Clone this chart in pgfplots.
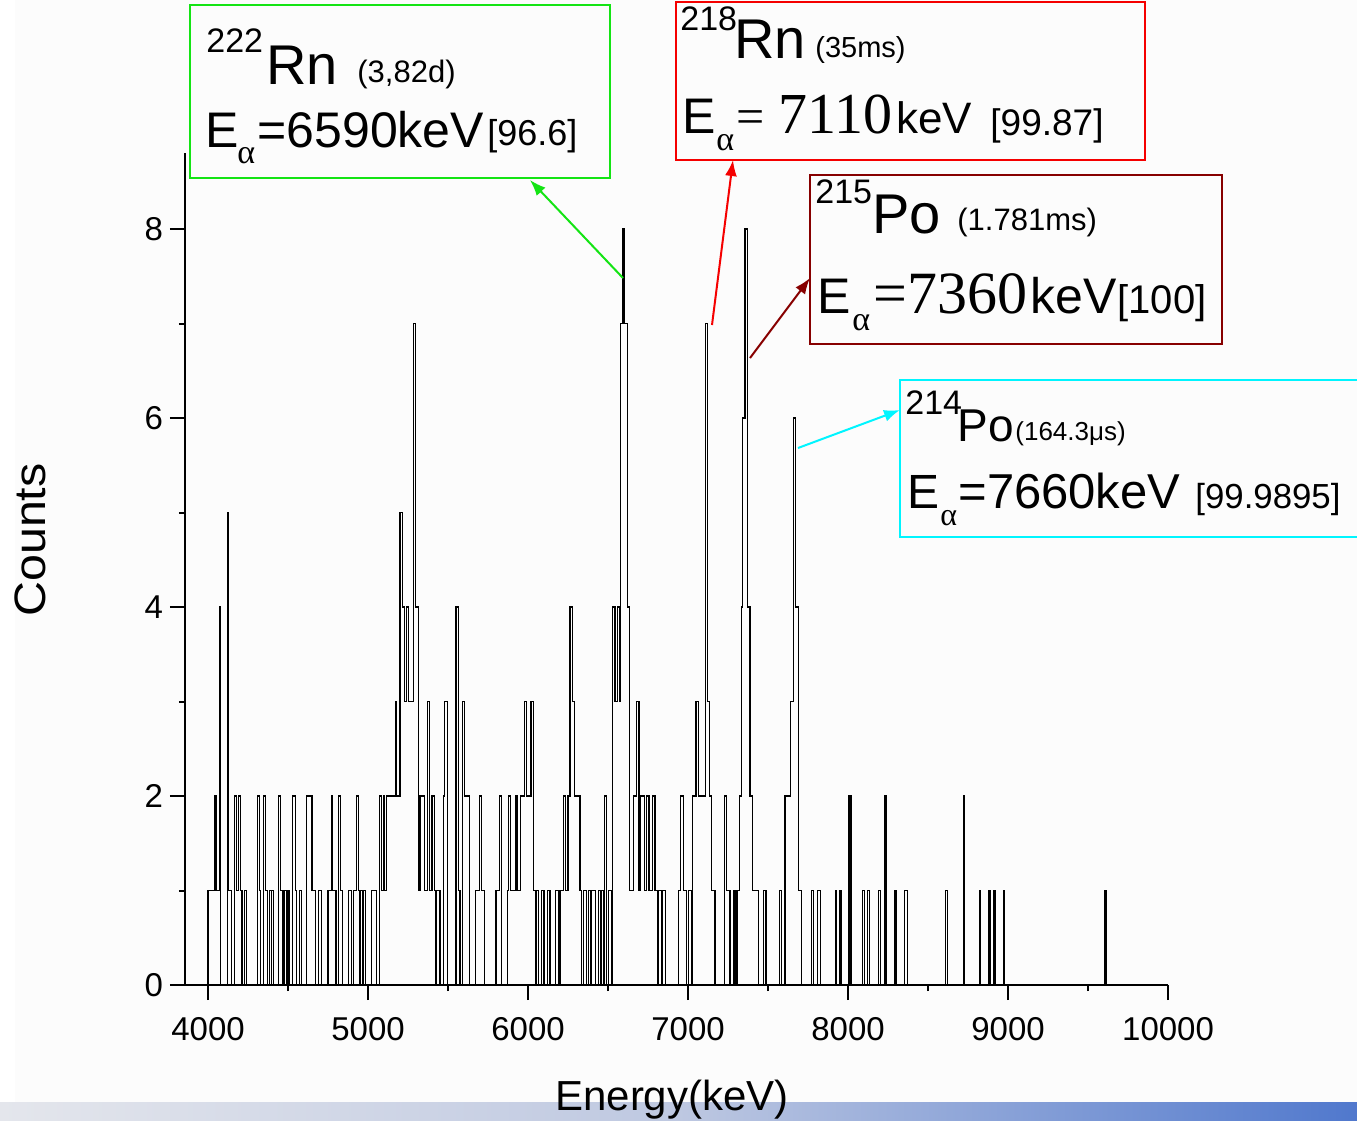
\documentclass[border=0pt]{standalone}
\usepackage{pgfplots}
\pgfplotsset{compat=1.18}
\usetikzlibrary{arrows.meta}
\usepackage{fontspec}
\setmainfont{Liberation Sans}
\newfontfamily\serif{Liberation Serif}
\definecolor{cgreen}{RGB}{20,228,20}
\definecolor{cred}{RGB}{245,0,0}
\definecolor{cdred}{RGB}{135,0,0}
\definecolor{ccyan}{RGB}{0,245,255}
\definecolor{bgc}{RGB}{252,252,252}
\definecolor{barl}{RGB}{228,230,236}
\definecolor{barr}{RGB}{80,120,205}
\newcommand{\fs}[1]{\fontsize{#1}{#1}\selectfont}
\begin{document}
\begin{tikzpicture}
\begin{scope}[x=0.5pt,y=-0.5pt]
\fill[white] (0,0) rectangle (1357,1121);
\fill[bgc] (15,0) rectangle (1357,1102);
\shade[left color=barl, right color=barr, middle color={rgb,255:red,190;green,200;blue,225}] (0,1102) rectangle (1357,1121);
\end{scope}
\begin{axis}[
  at={(92.5pt,-492.5pt)}, anchor=south west,
  x=0.08pt, y=47.25pt,
  xmin=3856, xmax=10000, ymin=0, ymax=8.8,
  axis x line=bottom, axis y line=left,
  axis line style={-, line width=1.2pt},
  x axis line style={-}, y axis line style={-},
  xtick={4000,5000,...,10000}, minor xtick={4500,5500,...,9500},
  ytick={0,2,4,6,8}, minor ytick={1,3,5,7},
  tick align=outside, major tick length=7.5pt, minor tick length=3pt,
  every tick/.style={black, line width=1pt},
  tick label style={font=\fs{16.5}},
  xticklabel style={yshift=-5pt},
  /pgf/number format/assume math mode=true,
  /pgf/number format/1000 sep={},
  scaled ticks=false,
  clip=false,
]
\addplot[const plot, black, line width=0.65pt] coordinates {
(4000,0)(4000,1)(4040,2)(4050,1)(4070,4)(4080,0)(4120,5)(4130,1)(4145,0)(4165,2)(4180,1)(4190,2)(4205,1)(4212,0)(4230,1)(4240,0)
(4310,2)(4320,1)(4330,0)(4345,2)(4360,1)(4370,0)(4385,1)(4395,0)(4398,1)(4408,0)(4440,2)(4455,1)(4468,0)(4480,1)(4490,0)(4500,1)(4510,0)
(4530,2)(4545,1)(4555,0)(4570,1)(4585,0)(4615,2)(4650,1)(4670,0)(4690,1)(4710,0)(4750,1)(4770,2)(4780,1)(4800,0)(4815,2)(4830,1)(4840,0)
(4880,1)(4898,0)(4908,1)(4930,2)(4942,1)(4950,0)(4955,1)(4965,0)(4968,1)(4985,0)(5020,1)(5055,0)(5070,2)(5085,1)(5095,2)(5105,1)(5115,2)
(5170,3)(5180,2)(5200,5)(5215,4)(5230,3)(5240,4)(5255,3)(5285,7)(5298,4)(5315,1)(5325,2)(5355,1)(5370,3)(5385,1)(5400,2)(5415,1)(5425,0)
(5430,1)(5450,0)(5470,2)(5480,3)(5495,0)(5550,4)(5565,1)(5575,0)(5590,3)(5602,2)(5635,0)(5670,1)(5695,2)(5710,1)(5730,0)(5800,1)(5820,2)
(5835,0)(5870,1)(5880,2)(5892,1)(5925,2)(5935,1)(5955,2)(5980,3)(5992,2)(6018,3)(6032,1)(6045,0)(6050,1)(6065,0)(6085,1)(6100,0)(6120,1)
(6137,0)(6170,1)(6190,0)(6200,1)(6220,2)(6235,1)(6250,2)(6262,4)(6277,3)(6290,2)(6325,1)(6335,0)(6345,1)(6365,0)(6380,1)(6392,0)(6397,1)
(6420,0)(6440,1)(6455,0)(6458,1)(6472,0)(6480,2)(6492,0)(6505,1)(6525,0)(6529,4)(6544,3)(6558,4)(6575,3)(6580,7)(6590,8)(6600,7)(6620,4)
(6633,1)(6660,2)(6679,3)(6694,1)(6705,2)(6730,1)(6740,2)(6756,1)(6780,2)(6794,1)(6810,0)(6815,1)(6835,0)(6840,1)(6860,0)(6940,1)(6954,2)
(6971,1)(6992,0)(7002,1)(7023,0)(7029,2)(7050,3)(7065,2)(7108,7)(7123,3)(7133,2)(7148,1)(7169,0)(7227,2)(7242,1)(7262,0)(7288,1)(7300,0)
(7310,1)(7321,2)(7335,4)(7342,6)(7356,8)(7371,4)(7387,2)(7404,1)(7440,0)(7471,1)(7487,0)(7571,1)(7585,0)(7606,2)(7640,3)(7658,6)(7673,4)
(7690,1)(7710,0)(7770,1)(7783,0)(7810,1)(7830,0)(7920,1)(7930,0)(7950,1)(7960,0)(8006,2)(8019,0)(8090,1)(8102,0)(8121,1)(8133,0)(8192,1)
(8204,0)(8231,2)(8242,0)(8294,1)(8304,0)(8352,1)(8370,0)(8610,1)(8620,0)(8720,2)(8730,0)(8820,1)(8830,0)(8878,1)(8888,0)(8908,1)(8918,0)
(8970,1)(8980,0)(9606,1)(9616,0)
};
\end{axis}
\begin{scope}[x=0.5pt,y=-0.5pt]
\tikzset{t/.style={anchor=base west, inner sep=0pt}}
\node[rotate=90, inner sep=0pt] at (30,540) {\fs{22}\scalebox{1.1}[1]{Counts}};
\node[inner sep=0pt, anchor=base] at (672,1110) {\fs{21}Energy(keV)};
% box 1
\draw[cgreen, line width=1pt] (190,5) rectangle (610,178);
\node[t] at (206,52) {\fs{17}222};
\node[t] at (266,84) {\fs{28}Rn};
\node[t] at (357,82) {\fs{15.5}(3,82d)};
\node[t] at (205,147) {\fs{25}E};
\node[t] at (237,163) {\fs{17}\serif α};
\node[t] at (257,147) {\fs{25}=6590keV};
\node[t] at (487,145) {\fs{18}[96.6]};
\draw[cgreen, line width=1pt, -{Latex[length=8pt,width=6pt]}] (623,278) -- (530,180);
% box 2
\draw[cred, line width=1pt] (676,2) rectangle (1145,160);
\node[t] at (680,30) {\fs{17}218};
\node[t] at (734,58) {\fs{28}Rn};
\node[t] at (815,57) {\fs{14.5}(35ms)};
\node[t] at (682,133) {\fs{25}E};
\node[t] at (716,150) {\fs{17}\serif α};
\node[t] at (736,133) {\fs{25}\serif =};
\node[t] at (778,133) {\fs{29}\serif 7110};
\node[t] at (896,133) {\fs{22}keV};
\node[t] at (990,135) {\fs{18.5}[99.87]};
\draw[cred, line width=1pt, -{Latex[length=8pt,width=6pt]}] (712,325) -- (733,160);
% box 3
\draw[cdred, line width=1pt] (810,175) rectangle (1222,344);
\node[t] at (815,203) {\fs{17}215};
\node[t] at (872,233) {\fs{28}Po};
\node[t] at (957,230) {\fs{15.5}(1.781ms)};
\node[t] at (817,313) {\fs{25}E};
\node[t] at (852,330) {\fs{17}\serif α};
\node[t] at (873,313) {\fs{30}\serif =7360};
\node[t] at (1030,313) {\fs{25}keV};
\node[t] at (1117,313) {\fs{20}[100]};
\draw[cdred, line width=1pt, -{Latex[length=8pt,width=6pt]}] (750,358) -- (810,278);
% box 4
\draw[ccyan, line width=1pt] (1380,380) -- (900,380) -- (900,537) -- (1380,537);
\node[t] at (905,414) {\fs{17}214};
\node[t] at (957,441) {\fs{23}Po};
\node[t] at (1015,440) {\fs{13}(164.3μs)};
\node[t] at (907,508) {\fs{24}E};
\node[t] at (940,525) {\fs{16}\serif α};
\node[t] at (958,508) {\fs{24.5}=7660keV};
\node[t] at (1195,508) {\fs{17.4}[99.9895]};
\draw[ccyan, line width=1pt, -{Latex[length=8pt,width=6pt]}] (798,448) -- (900,410);
\end{scope}
\pgfresetboundingbox
\path[use as bounding box] (0,0) rectangle (678.5pt,-560.5pt);
\end{tikzpicture}
\end{document}
